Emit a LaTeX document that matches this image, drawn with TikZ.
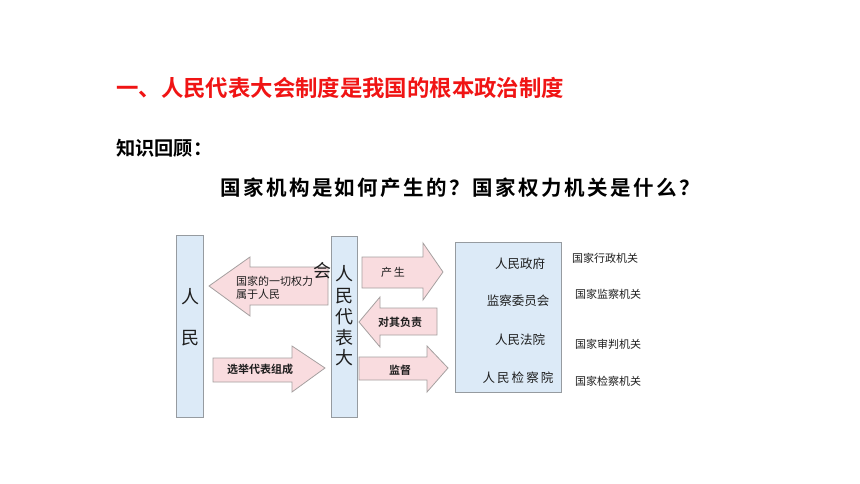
\documentclass[tikz,border=0pt]{standalone}
\usepackage{fontspec}
\newfontfamily\cjk{Noto Sans CJK SC}[BoldFont={Noto Sans CJK SC Bold}]
\newfontfamily\cjkwide{Noto Sans CJK SC}[BoldFont={Noto Sans CJK SC Bold},LetterSpace=12]
\definecolor{titlered}{RGB}{240,20,20}
\definecolor{boxblue}{RGB}{220,234,247}
\definecolor{boxedge}{RGB}{150,155,160}
\definecolor{arrowpink}{RGB}{249,220,223}
\definecolor{arrowedge}{RGB}{165,160,160}
\definecolor{txt}{RGB}{30,30,30}
\begin{document}
\begin{tikzpicture}[x=1pt,y=-1pt,
  panel/.style={draw=boxedge,fill=boxblue,line width=0.8pt},
  blockarrow/.style={draw=arrowedge,fill=arrowpink,line width=0.8pt},
  big/.style={font=\cjk\fontsize{18}{20}\selectfont,text=txt,inner sep=0pt},
  small/.style={font=\cjk\fontsize{11}{13}\selectfont,text=txt,inner sep=0pt},
  smallb/.style={font=\cjk\bfseries\fontsize{11}{13}\selectfont,text=txt,inner sep=0pt},
  inner/.style={font=\cjk\fontsize{12.5}{14}\selectfont,text=txt,inner sep=0pt},
  label/.style={font=\cjk\fontsize{11}{13}\selectfont,text=txt,inner sep=0pt}]
\useasboundingbox (0,0) rectangle (860,484);
\fill[white] (0,0) rectangle (860,484);
% headings
\node[anchor=west,inner sep=0pt,text=titlered,font=\cjk\bfseries\fontsize{22.4}{26}\selectfont] (title) at (116,88) {一、人民代表大会制度是我国的根本政治制度};
\node[anchor=west,inner sep=0pt,text=black,font=\cjk\bfseries\fontsize{19.2}{22}\selectfont] (recall) at (116,148) {知识回顾：};
\node[anchor=west,inner sep=0pt,text=black,font=\cjkwide\bfseries\fontsize{20.5}{24}\selectfont] (question) at (220,188) {国家机构是如何产生的？国家权力机关是什么？};
% panels
\draw[panel] (176,235) rectangle (203,417);
\node[big] (ren1) at (190,297) {人};
\node[big] (min1) at (190,338) {民};
\draw[panel] (331,236) rectangle (357,417);
\node[big] (c1) at (344,274) {人};
\node[big] (c2) at (344,296) {民};
\node[big] (c3) at (344,317) {代};
\node[big] (c4) at (344,338) {表};
\node[big] (c5) at (344,358) {大};
\draw[panel] (455,242) rectangle (561,392);
\node[inner] (gov) at (520,264) {人民政府};
\node[inner] (jc) at (518,301) {监察委员会};
\node[inner] (fy) at (520,340) {人民法院};
\node[inner] (jcy) at (518,378) {人\,民\,检\,察\,院};
% labels
\node[label] (l1) at (605,258) {国家行政机关};
\node[label] (l2) at (608,294) {国家监察机关};
\node[label] (l3) at (608,344) {国家审判机关};
\node[label] (l4) at (608,381) {国家检察机关};
% block arrows
\draw[blockarrow] (209,286) -- (250,257) -- (250,267) -- (328,267) -- (328,305) -- (250,305) -- (250,316) -- cycle;
\draw[blockarrow] (213,358) -- (292,358) -- (292,346) -- (325,368) -- (292,392) -- (292,382) -- (213,382) -- cycle;
\draw[blockarrow] (362,257) -- (423,257) -- (423,243) -- (443,272) -- (423,300) -- (423,288) -- (362,288) -- cycle;
\draw[blockarrow] (359,322) -- (380,297) -- (380,308) -- (437,308) -- (437,335) -- (380,335) -- (380,347) -- cycle;
\draw[blockarrow] (359,357) -- (427,357) -- (427,346) -- (448,368) -- (427,392) -- (427,380) -- (359,380) -- cycle;
\node[big] (hui) at (322.5,271) {会};
% arrow texts
\node[small,anchor=west,align=left] (a1) at (236,288) {国家的一切权力\\属于人民};
\node[smallb] (a2) at (260,369) {选举代表组成};
\node[small] (a3) at (393,272) {产\,生};
\node[smallb] (a4) at (400,322) {对其负责};
\node[smallb] (a5) at (400,370) {监督};
\end{tikzpicture}
\end{document}
